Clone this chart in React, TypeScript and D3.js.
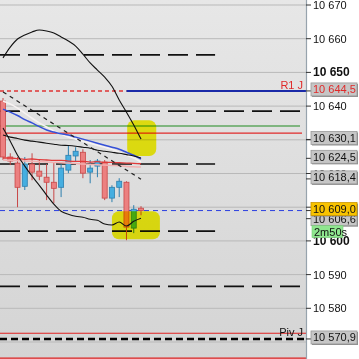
import * as d3 from 'd3';

// candles, one per bar (open, high, low, close)
const candleOpen = [10641.5, 10624.9, 10623.1, 10616.2, 10622.8, 10620.7, 10618.9, 10617.4, 10615.9, 10621.0, 10625.2, 10626.3, 10620.4, 10622.2, 10623.4, 10612.7, 10615.9, 10617.4, 10603.8, 10609.7];
const candleHigh = [10642.4, 10626.0, 10624.9, 10624.9, 10626.0, 10624.0, 10622.8, 10623.4, 10622.8, 10628.4, 10627.8, 10627.2, 10624.0, 10624.3, 10624.0, 10616.5, 10618.6, 10617.7, 10610.6, 10610.3];
const candleLow = [10624.0, 10622.5, 10610.0, 10615.1, 10618.0, 10618.0, 10612.1, 10611.2, 10613.0, 10620.1, 10623.4, 10618.6, 10617.1, 10618.9, 10612.1, 10611.5, 10613.0, 10600.2, 10602.3, 10607.6];
const candleClose = [10624.9, 10623.7, 10615.9, 10622.8, 10620.4, 10619.2, 10617.4, 10615.6, 10621.6, 10625.4, 10626.6, 10620.1, 10621.6, 10623.7, 10612.7, 10615.9, 10617.7, 10604.1, 10609.4, 10609.0];

// indicator lines
const bandUpper = [10654.3, 10657.5, 10659.9, 10661.1, 10662.0, 10662.6, 10662.3, 10661.7, 10660.5, 10659.3, 10657.8, 10655.4, 10652.8, 10650.7, 10648.6, 10645.9, 10641.8, 10638.2, 10634.4, 10630.2];
const bandLower = [10633.5, 10629.6, 10625.4, 10622.2, 10619.2, 10616.5, 10613.6, 10610.9, 10608.8, 10607.9, 10607.3, 10607.0, 10606.4, 10606.1, 10605.0, 10604.7, 10605.6, 10604.4, 10605.8, 10606.7];
const maBlack = [10631.4, 10630.8, 10630.4, 10629.9, 10629.6, 10629.3, 10629.0, 10628.7, 10628.4, 10628.3, 10628.1, 10627.8, 10627.5, 10626.9, 10626.6, 10626.3, 10626.0, 10625.6, 10625.2, 10624.6];
const maBlue = [10639.1, 10638.2, 10637.2, 10636.0, 10635.0, 10633.9, 10632.9, 10632.3, 10631.8, 10631.4, 10630.8, 10630.2, 10629.6, 10629.0, 10628.4, 10627.8, 10627.2, 10626.3, 10625.4, 10624.3];
const maWhite = [10641.5, 10640.6, 10639.4, 10637.9, 10636.4, 10635.0, 10633.8, 10632.6, 10631.7, 10630.8, 10630.2, 10629.6, 10629.0, 10628.4, 10627.8, 10627.2, 10626.3, 10625.4, 10624.6, 10623.4];
const maRed = [10624.6, 10624.6, 10624.4, 10624.2, 10624.3, 10624.1, 10624.0, 10623.9, 10623.9, 10623.7, 10623.6, 10623.6, 10623.4, 10623.5, 10623.3, 10623.3, 10623.2, 10623.1, 10623.0, 10622.9];
const maPink = [10624.0, 10623.9, 10623.8, 10623.7, 10623.6, 10623.5, 10623.4, 10623.3, 10623.2, 10623.1, 10623.0, 10622.8, 10622.7, 10622.6, 10622.5, 10622.4, 10622.3, 10622.1, 10622.0, 10621.9];
const trendFrom = [0, 10644.2];
const trendTo = [19, 10618.3];

// horizontal levels
const levelsDashed = [10655.2, 10638.5, 10622.8, 10602.9, 10586.5];
const levelsDashedEnd = [29.2, 41.7, 29.2, 29.2, 41.7];
const levelR1 = 10644.5;
const levelR1Split = 17;
const levelGreen = 10634.1;
const levelRed = 10632.0;
const levelPiv = 10570.9;
const levelsRedLow = [10572.6, 10565.2];
const lastPrice = 10609.0;

// right axis
const tickValues = [10580, 10590, 10600, 10610, 10620, 10630, 10640, 10650, 10660, 10670];
const coveredTicks = [10610, 10630];
const gridValues = [10570, 10580, 10590, 10600, 10610, 10620, 10630, 10640, 10650, 10660, 10670];
const boldTicks = [10600, 10650];
const greyLabels = [10630.1, 10624.5, 10618.4, 10606.6, 10570.9];
const timerText = '2m50s';

// yellow marker highlights (bar index range, price range)
const hlFrom = [17.1, 15.0];
const hlTo = [21.1, 21.6];
const hlHigh = [10635.8, 10608.8];
const hlLow = [10625.2, 10600.5];

const loc = d3.formatLocale({ decimal: ',', thousands: ' ', grouping: [3], currency: ['', ''] });
const fPrice = loc.format(',.1f');
const fTick = loc.format(',d');

export default function App() {
  const W = 359, H = 359, right = 306;
  const y = d3.scaleLinear().domain([10580, 10670]).range([308.3, 5]);
  const x = d3.scaleLinear().domain([0, 19]).range([3, 141]);
  const line = (vals: number[]) =>
    d3.line<number>().x((_, i) => x(i)).y((v) => y(v)).curve(d3.curveMonotoneX)(vals) || '';
  const bw = 5;

  const box = (v: number, fill: string, stroke: string, color: string, key: string, shift = 0) => {
    const cy = y(v) - 1.5 + shift;
    return (
      <g key={key}>
        <line x1={right} x2={311} y1={y(v)} y2={y(v)} stroke="#333" />
        <rect x={312} y={cy - 5.5} width={46} height={13} fill="#8a8a8a" />
        <rect x={311} y={cy - 6.5} width={46} height={13} fill={fill} stroke={stroke} strokeWidth={0.8} />
        <text x={313} y={cy + 4} fontSize={11} fill={color}>{fPrice(v)}</text>
      </g>
    );
  };

  const g606 = y(greyLabels[3]) - 1.5 + 2;

  return (
    <svg width={W} height={H} style={{ position: 'absolute', left: 0, top: 0, fontFamily: '"Liberation Sans", Arial, sans-serif' }}>
      <defs>
        <linearGradient id="bg" x1="0" y1="0" x2="0" y2="1">
          <stop offset="0" stopColor="#e7e7e7" />
          <stop offset="1" stopColor="#d4d4d4" />
        </linearGradient>
      </defs>
      <rect width={W} height={H} fill="#fff" />
      <rect width={right} height={H} fill="url(#bg)" />

      {/* grid */}
      {gridValues.map((v) => (
        <line key={v} x1={0} x2={right} y1={y(v)} y2={y(v)} stroke="#b9b9b9" strokeWidth={1} />
      ))}

      {/* levels */}
      {levelsDashed.map((v, i) => (
        <line key={v} x1={0} x2={Math.min(right, x(levelsDashedEnd[i]))} y1={y(v)} y2={y(v)} stroke="#111" strokeWidth={1.6} strokeDasharray="20 8" />
      ))}
      <line x1={0} x2={x(levelR1Split)} y1={y(levelR1)} y2={y(levelR1)} stroke="#e03535" strokeWidth={1.5} strokeDasharray="4 3" />
      <line x1={x(levelR1Split)} x2={right} y1={y(levelR1)} y2={y(levelR1)} stroke="#1a2aa8" strokeWidth={2} />
      <line x1={0} x2={300} y1={y(levelGreen)} y2={y(levelGreen)} stroke="#1f8a1f" strokeWidth={1.2} />
      <line x1={0} x2={302} y1={y(levelRed)} y2={y(levelRed)} stroke="#e02a2a" strokeWidth={1.2} />
      {levelsRedLow.map((v) => (
        <line key={v} x1={0} x2={right} y1={y(v)} y2={y(v)} stroke="#e02020" strokeWidth={1.2} />
      ))}
      <line x1={0} x2={right} y1={y(levelPiv)} y2={y(levelPiv)} stroke="#000" strokeWidth={2.6} strokeDasharray="7 4" />
      <line x1={0} x2={right} y1={y(lastPrice)} y2={y(lastPrice)} stroke="#2a3ee0" strokeWidth={1} strokeDasharray="5 4" />
      <text x={303} y={y(levelR1) - 2} fontSize={11} fill="#e02a2a" textAnchor="end">R1 J</text>
      <text x={303} y={y(levelPiv) - 3} fontSize={11} fill="#111" textAnchor="end">Piv J</text>

      {/* candles */}
      {candleOpen.map((o, i) => {
        const c = candleClose[i];
        const up = c >= o;
        const body = up ? '#46aee0' : '#ec8080';
        const edge = up ? '#2c7fae' : '#c84848';
        const top = y(Math.max(o, c));
        const h = Math.max(1.5, y(Math.min(o, c)) - top);
        return (
          <g key={i}>
            <line x1={x(i)} x2={x(i)} y1={y(candleHigh[i])} y2={y(candleLow[i])} stroke={edge} strokeWidth={1} />
            <rect x={x(i) - bw / 2} y={top} width={bw} height={h} fill={body} stroke={edge} strokeWidth={0.8} />
          </g>
        );
      })}

      {/* highlights */}
      {hlFrom.map((f, i) => (
        <rect key={i} x={x(f)} y={y(hlHigh[i])} width={x(hlTo[i]) - x(f)} height={y(hlLow[i]) - y(hlHigh[i])} rx={7}
          fill="#fbf812" style={{ mixBlendMode: 'multiply' }} />
      ))}

      {/* indicator lines */}
      <path d={line(maPink)} fill="none" stroke="#f2b0b0" strokeWidth={1.5} />
      <path d={line(maRed)} fill="none" stroke="#e03a3a" strokeWidth={1.3} />
      <path d={line(maWhite)} fill="none" stroke="#f6f2f2" strokeWidth={1.6} />
      <path d={line(maBlue)} fill="none" stroke="#3550d8" strokeWidth={1.5} />
      <path d={line(maBlack)} fill="none" stroke="#111" strokeWidth={1.1} />
      <line x1={x(trendFrom[0])} y1={y(trendFrom[1])} x2={x(trendTo[0])} y2={y(trendTo[1])} stroke="#222" strokeWidth={1.2} strokeDasharray="4 4" />
      <path d={line(bandUpper)} fill="none" stroke="#111" strokeWidth={1.1} />
      <path d={line(bandLower)} fill="none" stroke="#111" strokeWidth={1.1} />

      {/* right axis */}
      <line x1={right + 0.5} x2={right + 0.5} y1={0} y2={H} stroke="#97a3ad" strokeWidth={1.2} />
      {tickValues.map((v) => (
        <g key={v}>
          <line x1={right} x2={311} y1={y(v)} y2={y(v)} stroke="#333" />
          {!coveredTicks.includes(v) && (
            <text x={313} y={y(v) + 4} fontSize={boldTicks.includes(v) ? 12 : 11} fontWeight={boldTicks.includes(v) ? 'bold' : 'normal'} fill="#111">{fTick(v)}</text>
          )}
        </g>
      ))}
      {box(greyLabels[0], '#c6c6c6', '#9a9a9a', '#111', 'a')}
      {box(greyLabels[1], '#c6c6c6', '#9a9a9a', '#111', 'b')}
      {box(greyLabels[2], '#c6c6c6', '#9a9a9a', '#111', 'c')}
      {box(greyLabels[3], '#c6c6c6', '#9a9a9a', '#111', 'd', 2)}
      {box(lastPrice, '#f8c300', '#c89600', '#111', 'e')}
      <rect x={312} y={g606 + 6.5} width={31} height={12} fill="#8fe68f" stroke="#7acb7a" strokeWidth={0.6} />
      <text x={314} y={g606 + 16.5} fontSize={11} fill="#111">{timerText}</text>
      {box(levelR1, '#c6c6c6', '#9a9a9a', '#e02a2a', 'f')}
      {box(greyLabels[4], '#c6c6c6', '#9a9a9a', '#111', 'g')}
    </svg>
  );
}
